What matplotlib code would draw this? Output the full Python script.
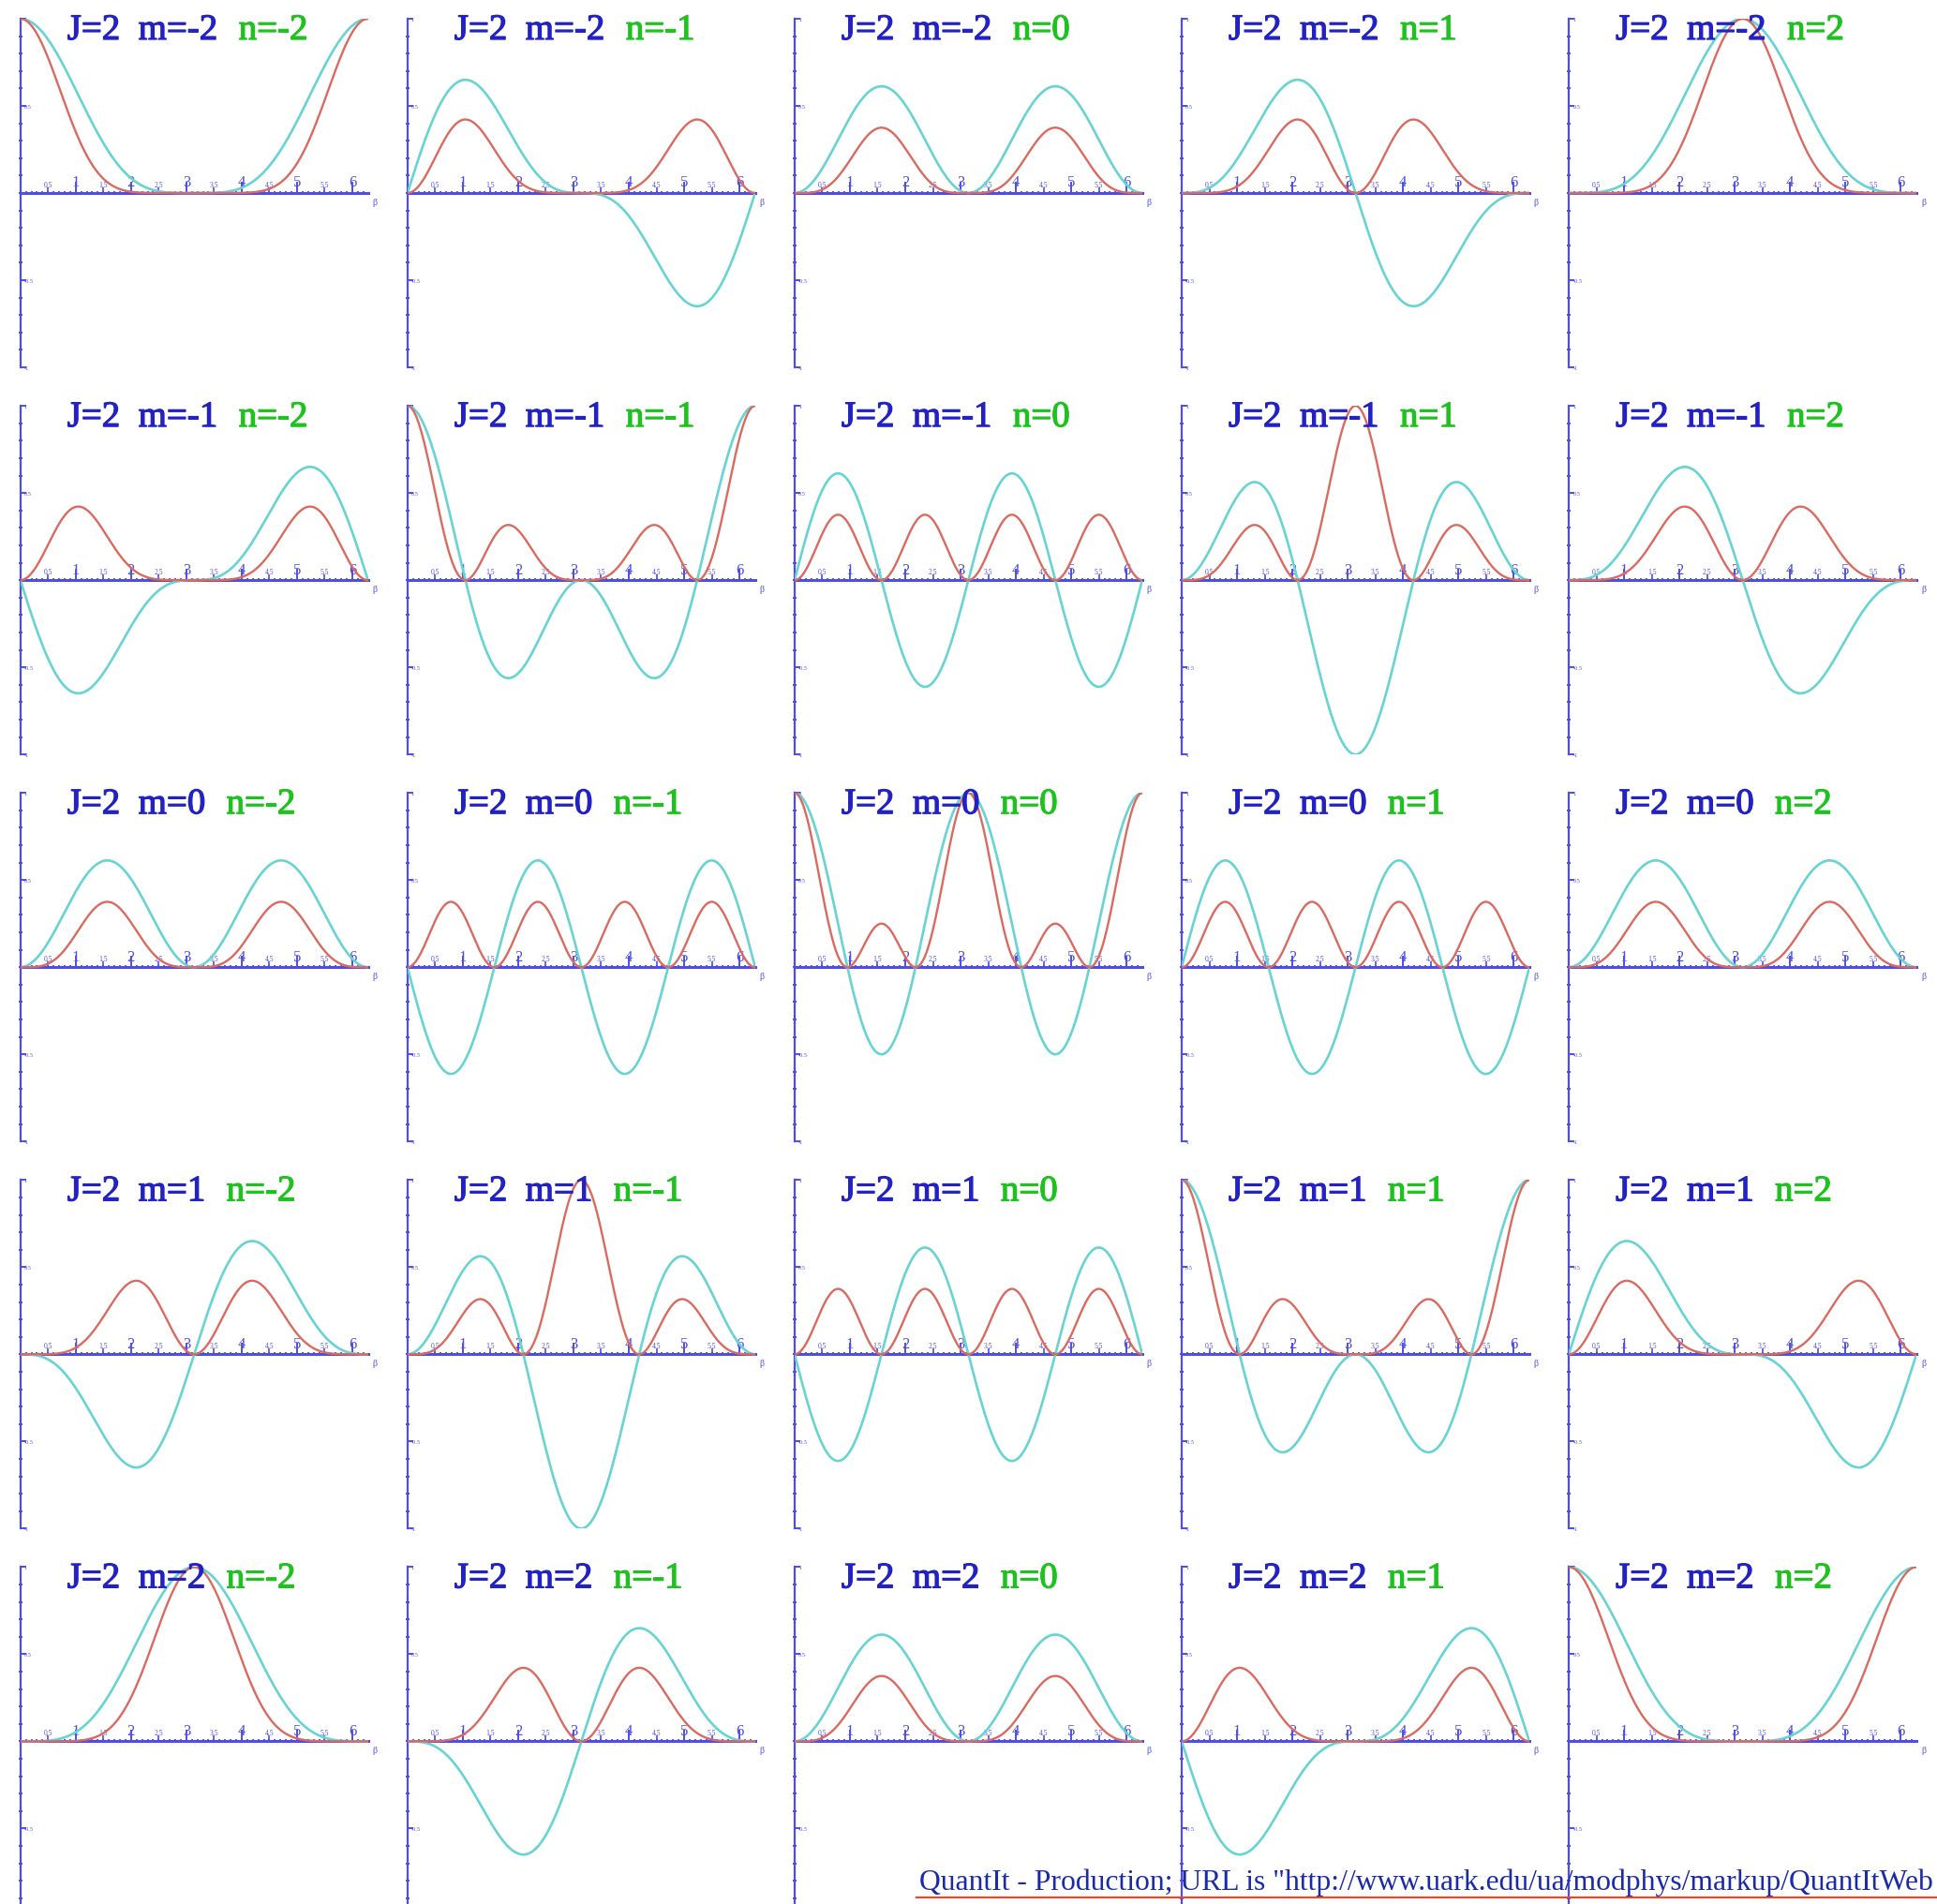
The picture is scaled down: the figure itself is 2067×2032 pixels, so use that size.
import math
import numpy as np
import matplotlib
matplotlib.use("Agg")
import matplotlib.pyplot as plt
import matplotlib.patheffects as pe
from matplotlib.lines import Line2D

# ---- what is plotted -------------------------------------------------------
J_VALUE = 2
M_VALUES = [-2, -1, 0, 1, 2]          # one row per m
N_VALUES = [-2, -1, 0, 1, 2]          # one column per n
Y_TICKS = [-1, -0.5, 0.5, 1]
Y_TICK_LABELS = ["-1", "-0.5", "0.5", "1"]
X_INT_TICKS = [1, 2, 3, 4, 5, 6]
X_INT_LABELS = ["1", "2", "3", "4", "5", "6"]
X_HALF_TICKS = [0.5, 1.5, 2.5, 3.5, 4.5, 5.5]
X_HALF_LABELS = ["0.5", "1.5", "2.5", "3.5", "4.5", "5.5"]
FOOTER = 'QuantIt - Production; URL is "http://www.uark.edu/ua/modphys/markup/QuantItWeb'

BETA = np.linspace(0.0, 2.0 * np.pi, 720)


def wigner_small_d(j, mp, m, beta):
    """Wigner small-d matrix element d^j_{mp,m}(beta)."""
    f = math.factorial
    c = np.cos(beta / 2.0)
    s = np.sin(beta / 2.0)
    pref = math.sqrt(f(j + mp) * f(j - mp) * f(j + m) * f(j - m))
    total = np.zeros_like(beta)
    for k in range(0, 2 * j + 1):
        a, b, d = j + m - k, mp - m + k, j - mp - k
        if a < 0 or b < 0 or d < 0:
            continue
        coef = (-1) ** b * pref / (f(a) * f(k) * f(b) * f(d))
        total = total + coef * c ** (2 * j + m - mp - 2 * k) * s ** (mp - m + 2 * k)
    return total


# ---- styling ---------------------------------------------------------------
SERIF = ["Liberation Serif", "DejaVu Serif"]
AXIS_BLUE = "#4e4ee4"
TITLE_BLUE = "#2222c4"
TITLE_GREEN = "#1ec21e"
CYAN = "#68d3d3"
RED = "#da6a60"

W_PX, H_PX = 2067, 2033
fig = plt.figure(figsize=(W_PX / 100, H_PX / 100), dpi=100)
fig.patch.set_facecolor("white")

COL_X0, ROW_Y0 = 21.7, 21.0       # pixel position of the first panel (x=0, y=1)
PITCH = 413.1
AX_W, AX_H = 371.0, 372.0
PX = 72.0 / 100.0                  # points per pixel


def add_panel(px_left, px_top):
    rect = [px_left / W_PX, 1.0 - (px_top + AX_H) / H_PX, AX_W / W_PX, AX_H / H_PX]
    return fig.add_axes(rect)


for r, m in enumerate(M_VALUES):
    for c, n in enumerate(N_VALUES):
        top_px = ROW_Y0 + r * PITCH
        ax = add_panel(COL_X0 + c * PITCH, top_px)
        ax.set_facecolor("none")
        ax.set_xlim(0, 2 * np.pi)
        ax.set_ylim(-1, 1)

        d = wigner_small_d(J_VALUE, m, n, BETA)
        ax.plot(BETA, d, color=CYAN, lw=1.9, solid_capstyle="round", zorder=3)
        ax.plot(BETA, d ** 2, color=RED, lw=1.7, solid_capstyle="round", zorder=3)

        # vertical axis on the left edge
        for side in ("top", "right", "bottom"):
            ax.spines[side].set_visible(False)
        ax.spines["left"].set_color(AXIS_BLUE)
        ax.spines["left"].set_linewidth(1.6)
        ax.xaxis.set_visible(False)
        ax.set_yticks(Y_TICKS, Y_TICK_LABELS)
        ax.set_yticks(np.arange(-10, 11) / 10.0, minor=True)
        ax.tick_params(axis="y", which="major", direction="in", length=6 * PX,
                       width=1.4, color=AXIS_BLUE, labelcolor=AXIS_BLUE,
                       labelsize=4.5, pad=-3)
        ax.tick_params(axis="y", which="minor", direction="inout", length=4 * PX,
                       width=1.4, color=AXIS_BLUE)
        for val, lab in zip(Y_TICKS, ax.get_yticklabels()):
            lab.set_horizontalalignment("left")
            lab.set_family(SERIF)
            # the lowest label of the last row falls below the canvas
            if val == -1 and top_px + AX_H > H_PX - 8:
                lab.set_visible(False)

        # horizontal axis through y = 0, labels above it
        xa = ax.secondary_xaxis(0, transform=ax.transData)
        xa.set_alignment("top")
        xa.spines["top"].set_color(AXIS_BLUE)
        xa.spines["top"].set_linewidth(2.2)
        xa.set_xticks(X_INT_TICKS, X_INT_LABELS)
        xa.set_xticks(np.arange(1, 63) / 10.0, minor=True)
        xa.tick_params(axis="x", which="major", direction="out", length=12 * PX,
                       width=1.4, color=AXIS_BLUE, labelcolor=AXIS_BLUE,
                       labelsize=12, pad=-8.5 * PX)
        xa.tick_params(axis="x", which="minor", direction="inout", length=4.5 * PX,
                       width=1.3, color=AXIS_BLUE)
        for lab in xa.get_xticklabels():
            lab.set_family(SERIF)

        xh = ax.secondary_xaxis(0, transform=ax.transData)
        xh.set_alignment("top")
        xh.spines["top"].set_visible(False)
        xh.spines["bottom"].set_visible(False)
        xh.set_xticks(X_HALF_TICKS, X_HALF_LABELS)
        xh.tick_params(axis="x", which="major", direction="out", length=6 * PX,
                       width=1.2, color=AXIS_BLUE, labelcolor=AXIS_BLUE,
                       labelsize=5.5, pad=-1 * PX)
        for lab in xh.get_xticklabels():
            lab.set_family(SERIF)

        ax.annotate("\u03b2", xy=(2 * np.pi, 0), xycoords="data", xytext=(3.5, -6.5),
                    textcoords="offset points", ha="left", va="center",
                    fontsize=7, color=AXIS_BLUE, family=SERIF)

        # panel heading
        t1 = ax.text(50 / AX_W, 1 - 22 / AX_H, f"J={J_VALUE}  m={m}",
                     transform=ax.transAxes, ha="left", va="baseline",
                     fontsize=28, color=TITLE_BLUE, family=SERIF, zorder=4,
                     path_effects=[pe.withStroke(linewidth=0.9, foreground=TITLE_BLUE)])
        ax.annotate(f"n={n}", xy=(1, 0), xycoords=t1, xytext=(16, 0),
                    textcoords="offset points", ha="left", va="bottom",
                    fontsize=28, color=TITLE_GREEN, family=SERIF, zorder=4,
                    path_effects=[pe.withStroke(linewidth=0.9, foreground=TITLE_GREEN)])

# footer line with its underline, sized to run up to the right edge
renderer = fig.canvas.get_renderer()
probe = fig.text(0, 0, FOOTER, fontsize=20, family=SERIF)
probe_w = probe.get_window_extent(renderer).width
probe.remove()
footer_size = 20 * (2063 - 981) / probe_w
fig.text(981 / W_PX, 1 - 2017 / H_PX, FOOTER, fontsize=footer_size,
         family=SERIF, color="#1a2aa8", ha="left", va="baseline")
fig.add_artist(Line2D([978 / W_PX, 1.0], [1 - 2026 / H_PX] * 2,
                      transform=fig.transFigure, color="#e8482c", lw=1.6))

fig.savefig("out.png", dpi=100, facecolor="white")
